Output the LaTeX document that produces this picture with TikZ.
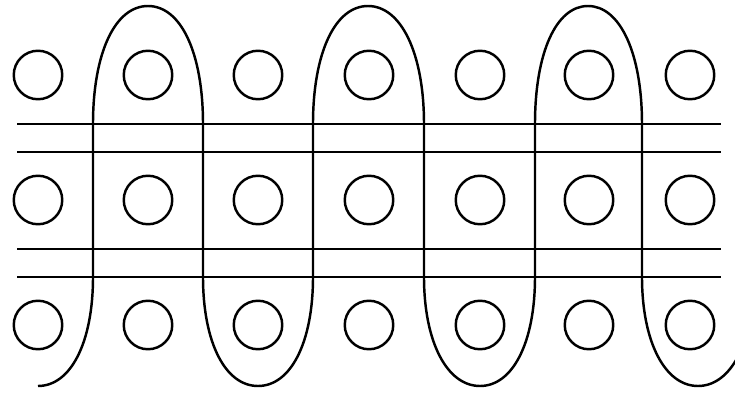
\documentclass[tikz,border=0pt]{standalone}
\usepackage{tikz}

\begin{document}
\begin{tikzpicture}[
      x=0.02cm, y=-0.02cm,
      hole/.style={draw, circle, line width=1.4pt, inner sep=0pt, minimum size=0.97cm},
      rail/.style={line width=1.5pt},
      thinrail/.style={line width=1.1pt},
      wire/.style={line width=1.4pt},
    ]
    \useasboundingbox (0,0) rectangle (735,396);

    % Holes, three rows of seven
    \foreach \x [count=\i] in {38,148,258,369,480,589,690}
      \foreach \y [count=\j] in {75,200,325}
        \node[hole] (h-\j-\i) at (\x,\y) {};

    % Rails
    \draw[rail] (17,124) -- (721,124);
    \draw[thinrail] (17,152) -- (721,152);
    \draw[thinrail] (17,249) -- (721,249);
    \draw[rail] (17,277) -- (721,277);

    % Wire weaving over and under
    \begin{scope}
      \clip (0,0) rectangle (735,396);
      \draw[wire] (38,386) .. controls (71,386) and (93,342) .. (93,277)
        -- (93,124) .. controls (93,53) and (115,6) .. (148,6)
        .. controls (181,6) and (203,53) .. (203,124)
        -- (203,277) .. controls (203,342) and (225,386) .. (258,386)
        .. controls (291,386) and (313,342) .. (313,277)
        -- (313,124) .. controls (313,53) and (335,6) .. (368,6)
        .. controls (401,6) and (424,53) .. (424,124)
        -- (424,277) .. controls (424,342) and (447,386) .. (480,386)
        .. controls (513,386) and (535,342) .. (535,277)
        -- (535,124) .. controls (535,53) and (556,6) .. (588,6)
        .. controls (620,6) and (642,53) .. (642,124)
        -- (642,277) .. controls (642,342) and (665,386) .. (698,386)
        .. controls (731,386) and (754,342) .. (754,277);
    \end{scope}
  \end{tikzpicture}
\end{document}
